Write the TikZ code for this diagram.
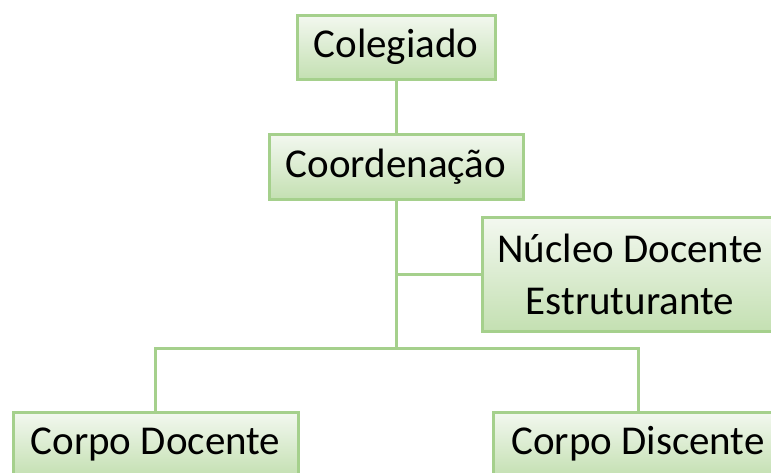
\documentclass[tikz,border=0pt]{standalone}
\usepackage{fontspec}
\setmainfont{Carlito}
\usepackage{tikz}
\usetikzlibrary{positioning, calc}
\definecolor{orgline}{RGB}{165,208,140}
\definecolor{orgtop}{RGB}{243,248,240}
\definecolor{orgbot}{RGB}{196,224,178}
\tikzset{
  orgbox/.style={rectangle, draw=orgline, top color=orgtop, bottom color=orgbot,
    align=center, inner sep=0pt, line width=3pt,
    font=\fontsize{41}{52}\selectfont},
  link/.style={draw=orgline, line width=3pt}
}

\begin{document}
\begin{tikzpicture}[x=1pt, y=-1pt]
  \clip (0,0) rectangle (771,472);
  \fill[white] (0,0) rectangle (771,472);

  \node[orgbox, minimum width=198pt, minimum height=64pt] (coleg) at (396, 47) {Colegiado};
  \node[orgbox, minimum width=254pt, minimum height=65pt] (coord) at (396, 166.5) {Coordenação};
  \node[orgbox, minimum width=296pt, minimum height=114pt] (nde) at (630, 274) {Núcleo Docente\\Estruturante};
  \node[orgbox, minimum width=285pt, minimum height=64pt] (doc) at (155.5, 444) {Corpo Docente};
  \node[orgbox, minimum width=290pt, minimum height=64pt] (disc) at (638, 444) {Corpo Discente};

  \coordinate (split) at (396, 348);

  \draw[link] (coleg) -- (coord);
  \draw[link] (coord) -- (split);
  \draw[link] (split |- nde.west) -- (nde);
  \draw[link] (split) -| (doc);
  \draw[link] (split) -| (disc);
\end{tikzpicture}
\end{document}
